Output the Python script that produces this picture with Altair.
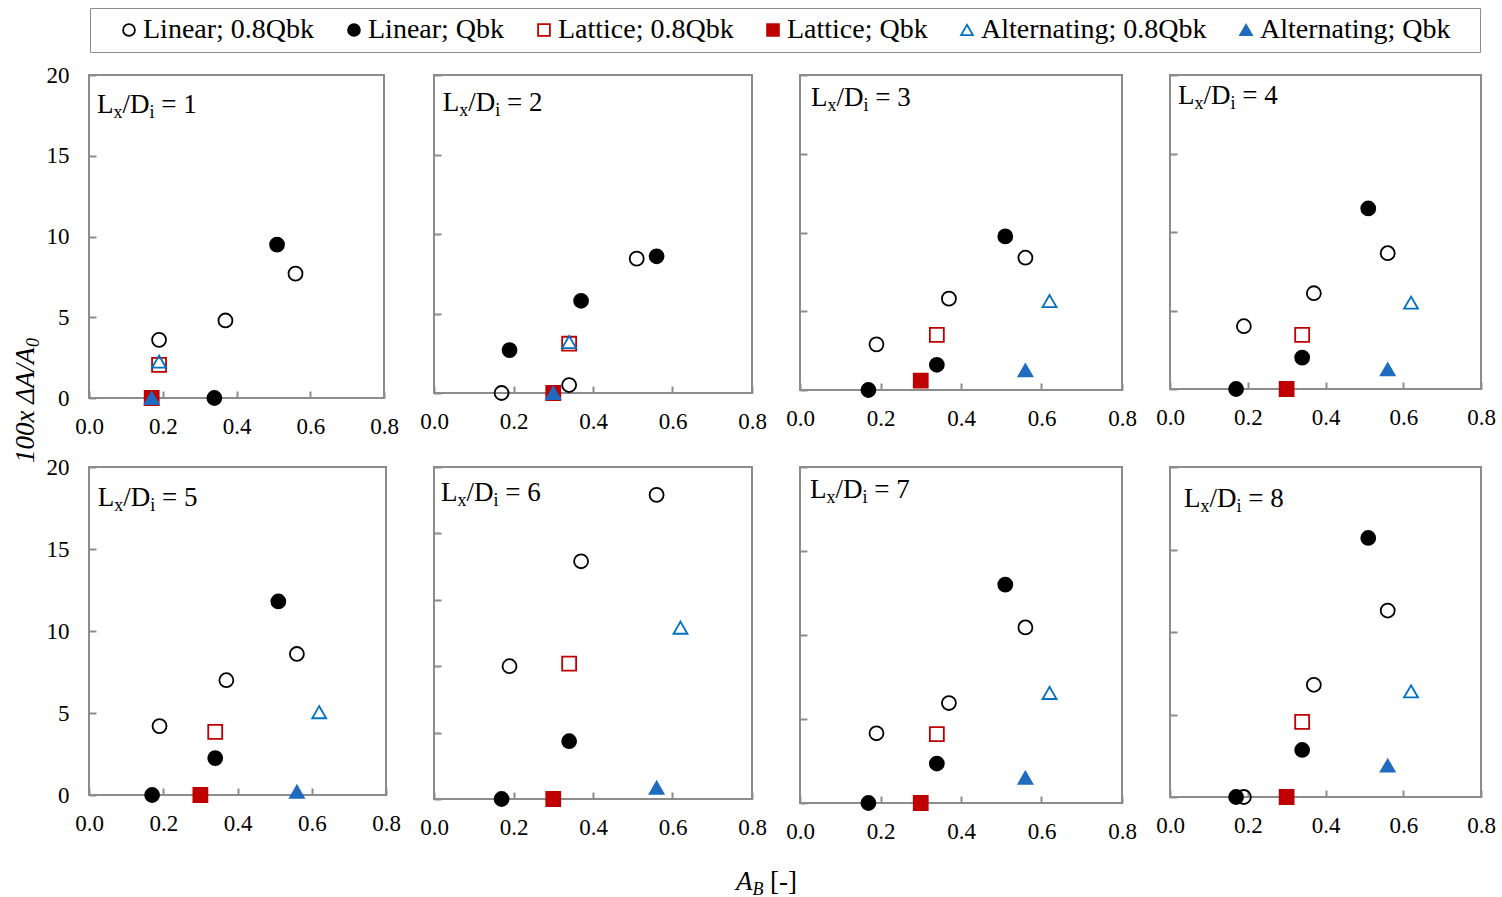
import altair as alt
import pandas as pd

# ---------------- data ----------------
SERIES = ["Linear; 0.8Qbk", "Linear; Qbk", "Lattice; 0.8Qbk", "Lattice; Qbk",
          "Alternating; 0.8Qbk", "Alternating; Qbk"]
SHAPES = ["circle", "circle", "square", "square", "triangle-up", "triangle-up"]
STROKES = ["#000000", "#000000", "#C00000", "#C00000", "#0070C0", "#1F6BC0"]
FILLS = ["transparent", "#000000", "transparent", "#C00000", "transparent", "#1F6BC0"]

PANEL_N = [1, 2, 3, 4, 5, 6, 7, 8]
Y_MAX = [20, 20, 20, 20, 20, 25, 20, 20]

# Linear; 0.8Qbk
LIN08_PANEL = [1, 1, 1, 2, 2, 2, 3, 3, 3, 4, 4, 4, 5, 5, 5, 6, 6, 6, 7, 7, 7, 8, 8, 8]
LIN08_X = [0.19, 0.37, 0.56, 0.17, 0.34, 0.51, 0.19, 0.37, 0.56, 0.19, 0.37, 0.56,
           0.19, 0.37, 0.56, 0.19, 0.37, 0.56, 0.19, 0.37, 0.56, 0.19, 0.37, 0.56]
LIN08_Y = [3.6, 4.8, 7.7, 0.0, 0.5, 8.45, 2.9, 5.8, 8.4, 4.0, 6.1, 8.65,
           4.2, 7.0, 8.6, 10.0, 17.9, 22.9, 4.15, 5.95, 10.45, 0.0, 6.8, 11.3]
# Linear; Qbk
LIN1_PANEL = [1, 1, 2, 2, 2, 3, 3, 3, 4, 4, 4, 5, 5, 5, 6, 6, 7, 7, 7, 8, 8, 8]
LIN1_X = [0.34, 0.51, 0.19, 0.37, 0.56, 0.17, 0.34, 0.51, 0.17, 0.34, 0.51,
          0.17, 0.34, 0.51, 0.17, 0.34, 0.17, 0.34, 0.51, 0.17, 0.34, 0.51]
LIN1_Y = [0.0, 9.5, 2.7, 5.8, 8.6, 0.0, 1.6, 9.75, 0.0, 2.0, 11.5,
          0.0, 2.25, 11.8, 0.0, 4.35, 0.0, 2.35, 13.0, 0.0, 2.85, 15.7]
# Lattice; 0.8Qbk / Qbk (one point per panel)
LAT08_X = [0.19, 0.34, 0.34, 0.34, 0.34, 0.34, 0.34, 0.34]
LAT08_Y = [2.05, 3.1, 3.5, 3.45, 3.85, 10.2, 4.1, 4.55]
LAT1_X = [0.17, 0.30, 0.30, 0.30, 0.30, 0.30, 0.30, 0.30]
LAT1_Y = [0.0, 0.0, 0.6, 0.0, 0.0, 0.0, 0.0, 0.0]
# Alternating; 0.8Qbk / Qbk (one point per panel)
ALT08_X = [0.19, 0.34, 0.62, 0.62, 0.62, 0.62, 0.62, 0.62]
ALT08_Y = [2.25, 3.2, 5.65, 5.5, 5.05, 12.9, 6.55, 6.4]
ALT1_X = [0.17, 0.30, 0.56, 0.56, 0.56, 0.56, 0.56, 0.56]
ALT1_Y = [0.0, 0.0, 1.25, 1.25, 0.2, 0.85, 1.5, 1.9]

X_TICKS = [0.0, 0.2, 0.4, 0.6, 0.8]

# ---------------- table ----------------
rows = []
def add(series, panels, xs, ys):
    for p, x, y in zip(panels, xs, ys):
        rows.append({"panel": p, "series": series, "x": x, "y": y})

add(SERIES[0], LIN08_PANEL, LIN08_X, LIN08_Y)
add(SERIES[1], LIN1_PANEL, LIN1_X, LIN1_Y)
add(SERIES[2], PANEL_N, LAT08_X, LAT08_Y)
add(SERIES[3], PANEL_N, LAT1_X, LAT1_Y)
add(SERIES[4], PANEL_N, ALT08_X, ALT08_Y)
add(SERIES[5], PANEL_N, ALT1_X, ALT1_Y)
df = pd.DataFrame(rows)

# ---------------- layout ----------------
FONT = "Liberation Serif"
WIDTHS = [295, 318, 322, 311, 297, 318, 322, 311]
HEIGHTS = [323, 318, 315, 314, 328, 332, 336, 330]
LABEL_POS = [(8, 38), (8.7, 36), (11, 31), (8, 29), (8.7, 39), (7, 34), (10, 31), (14, 40)]
FRAME = "#8c8c8c"

legend = alt.Legend(
    orient="none", legendX=1, legendY=-67, direction="horizontal",
    title="\u00a0", titleOrient="left", titleFontSize=28, titlePadding=17,
    labelFont=FONT, labelFontSize=28, labelColor="#000", labelLimit=500,
    labelOffset=0, columnPadding=25, symbolSize=140, symbolStrokeWidth=1.8,
    strokeColor=FRAME, padding=8,
    labelExpr=("(datum.value == 'Alternating; Qbk' || datum.label == 'Alternating; Qbk')"
               " ? datum.label + '\u2800' : datum.label"),
)


def text_layer(txt, x, y, size, italic=False, angle=None):
    kw = dict(align="left", baseline="alphabetic", font=FONT, fontSize=size, color="#000")
    if italic:
        kw["fontStyle"] = "italic"
    if angle is not None:
        kw["angle"] = angle
    return alt.Chart(pd.DataFrame({"t": [txt]})).mark_text(**kw).encode(
        text="t:N", x=alt.value(x), y=alt.value(y))


def panel(i):
    n = PANEL_N[i]
    w, h, ymax = WIDTHS[i], HEIGHTS[i], Y_MAX[i]
    show_y = i in (0, 4)
    d = df[df.panel == n]
    pts = alt.Chart(d).mark_point(size=195, strokeWidth=1.8, opacity=1).encode(
        x=alt.X("x:Q", scale=alt.Scale(domain=[0, 0.8], nice=False, zero=False),
                axis=alt.Axis(values=X_TICKS, format=".1f", title=None, offset=-7,
                              labelPadding=17)),
        y=alt.Y("y:Q", scale=alt.Scale(domain=[0, ymax], nice=False),
                axis=alt.Axis(values=list(range(0, ymax + 1, 5)), title=None, offset=-7,
                              labels=show_y, labelPadding=20)),
        shape=alt.Shape("series:N", scale=alt.Scale(domain=SERIES, range=SHAPES), legend=legend),
        stroke=alt.Stroke("series:N", scale=alt.Scale(domain=SERIES, range=STROKES), legend=legend),
        fill=alt.Fill("series:N", scale=alt.Scale(domain=SERIES, range=FILLS), legend=legend),
    )
    x0, y0 = LABEL_POS[i]
    layers = [pts,
              text_layer("L", x0, y0, 27),
              text_layer("x", x0 + 16.5, y0 + 5, 18),
              text_layer("/D", x0 + 25.5, y0, 27),
              text_layer("i", x0 + 52.5, y0 + 5, 18),
              text_layer("= " + str(n), x0 + 64.2, y0, 27)]
    if i == 0:
        layers += [text_layer("100x \u0394A/A", -55, 388, 27, italic=True, angle=270),
                   text_layer("0", -50, 272, 18, italic=True, angle=270)]
    if i == 5:
        layers += [text_layer("A", 302, 423, 27, italic=True),
                   text_layer("B", 318.5, 428, 18, italic=True),
                   text_layer("[-]", 336, 423, 27)]
    return alt.layer(*layers).properties(width=w, height=h)


chart = alt.concat(
    *[panel(i) for i in range(8)], columns=4, spacing={"row": 69, "column": 48},
    bounds="flush", align="each",
).resolve_scale(
    x="independent", y="independent"
).properties(
    padding={"left": 11, "top": 7, "right": 5, "bottom": 5},
    background="white",
).configure(font=FONT).configure_view(
    stroke=FRAME, strokeWidth=2
).configure_axis(
    domain=False, grid=False, tickSize=7, tickColor=FRAME, tickWidth=2,
    labelFont=FONT, labelFontSize=23, labelColor="#000",
    labelFlush=False, labelOverlap=False, labelBound=False,
)

chart.save("out.html", embed_options={"renderer": "svg", "actions": False})
